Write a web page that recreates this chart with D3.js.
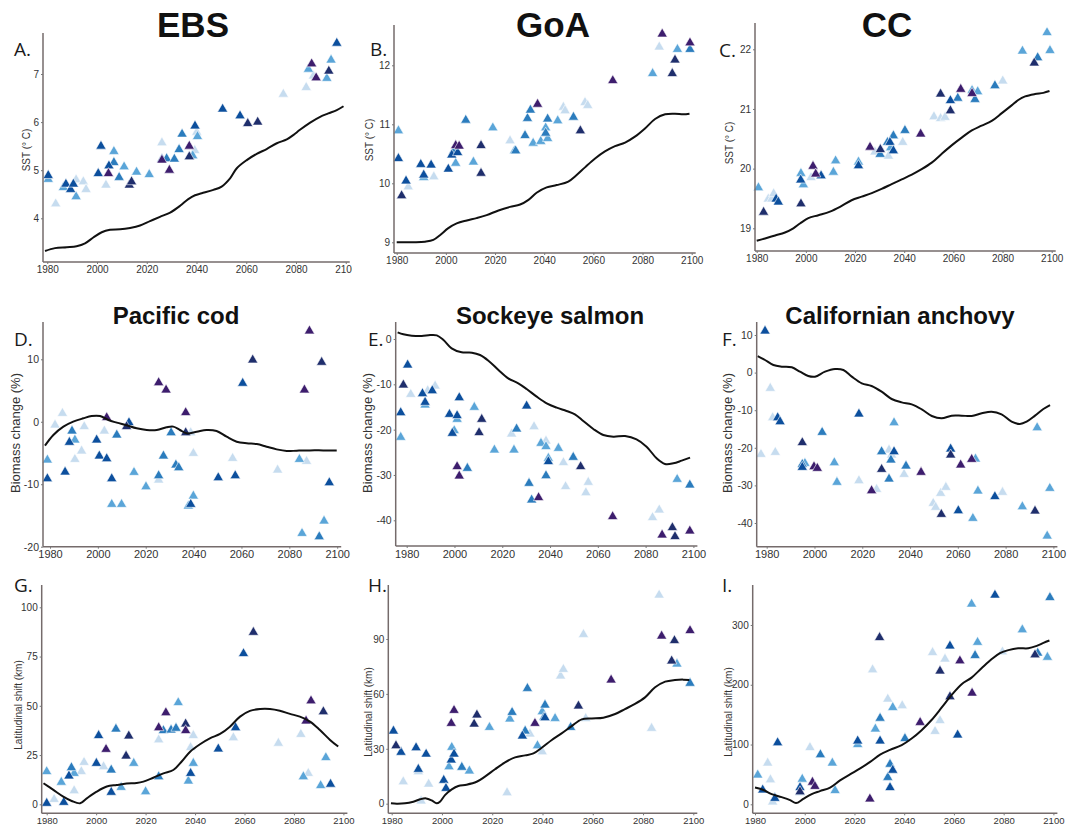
<!DOCTYPE html>
<html>
<head>
<meta charset="utf-8">
<script src="https://cdn.jsdelivr.net/npm/d3@7"></script>
<style>
  body { margin: 0; background: #fff; }
  svg { display: block; }
  text { font-family: "Liberation Sans", Arial, sans-serif; fill: #2a2a2a; }
</style>
</head>
<body>
<svg id="fig" width="1077" height="826"></svg>
<script>
// shade index -> colour (pale ... purple)
const shades = ['#c6dcef', '#5aa5d8', '#2b7cbd', '#0c4f9d', '#1f2e6c', '#3d1d6d']

const years = [1980, 2000, 2020, 2040, 2060, 2080, 2100]

// points are [year, value, shade]
const ebsPts = [[1980.4,4.89,3],[1980.4,4.81,1],[1983.4,4.30,0],[1986.5,4.64,1],[1987.5,4.71,3],[1989.4,4.60,3],[1990.5,4.71,3],[1991.6,4.45,1],[1991.6,4.80,0],[1994.5,4.76,0],[1995.6,4.60,0],[2000.5,4.93,3],[2001.6,5.50,3],[2003.6,4.69,0],[2004.6,4.93,5],[2004.8,5.09,3],[2006.8,5.16,2],[2006.8,5.39,1],[2008.9,4.85,2],[2010.9,5.07,1],[2013.0,4.69,4],[2013.9,4.76,4],[2015.9,4.96,1],[2021.0,4.91,1],[2026.1,5.57,0],[2026.1,5.23,2],[2026.1,5.21,5],[2028.0,5.24,2],[2029.1,5.00,5],[2031.1,5.23,2],[2033.0,5.43,2],[2034.2,5.75,2],[2037.1,5.50,5],[2037.1,5.28,4],[2038.5,5.30,1],[2039.3,5.41,0],[2039.4,5.92,3],[2040.4,5.70,1],[2040.1,5.79,0],[2050.5,6.27,3],[2057.5,6.13,3],[2060.6,5.97,4],[2064.6,6.00,4],[2074.9,6.58,0],[2084.1,6.72,0],[2085.0,7.10,1],[2086.3,7.21,5],[2087.0,6.96,0],[2088.1,6.92,5],[2092.4,6.91,1],[2093.2,7.06,4],[2094.1,7.29,1],[2096.4,7.64,3]]
const ebsLine = [[1979.1,3.32],[1983.1,3.38],[1987.8,3.40],[1991.8,3.42],[1995.2,3.48],[1998.5,3.60],[2001.9,3.71],[2005.2,3.76],[2009.3,3.77],[2013.3,3.80],[2017.3,3.85],[2021.3,3.94],[2025.3,4.03],[2029.4,4.12],[2033.4,4.26],[2036.7,4.40],[2039.4,4.48],[2042.1,4.52],[2046.8,4.59],[2050.1,4.66],[2053.5,4.83],[2056.2,5.04],[2060.2,5.21],[2064.2,5.34],[2068.2,5.44],[2072.3,5.56],[2076.3,5.64],[2078.9,5.73],[2081.6,5.84],[2085.7,5.99],[2089.7,6.11],[2093.0,6.18],[2096.4,6.25],[2099.1,6.33]]

const goaPts = [[1980.7,10.89,1],[1980.7,10.42,3],[1982.0,9.79,4],[1983.8,10.04,3],[1984.7,9.94,0],[1989.8,10.32,3],[1991.0,10.10,1],[1991.0,10.14,3],[1994.0,10.31,3],[1995.1,10.11,0],[2001.0,10.24,3],[2002.4,10.48,3],[2003.2,10.55,2],[2004.0,10.34,1],[2004.0,10.64,5],[2004.8,10.52,3],[2005.4,10.63,5],[2008.1,11.07,2],[2011.2,10.36,1],[2014.3,10.64,4],[2014.3,10.17,4],[2019.1,10.94,1],[2026.1,10.72,0],[2027.9,10.55,1],[2028.4,10.55,2],[2032.2,10.81,2],[2033.2,11.10,2],[2034.4,11.24,2],[2035.5,10.68,1],[2037.3,11.34,5],[2038.6,10.71,1],[2040.6,10.94,1],[2040.6,10.85,2],[2041.4,10.76,1],[2041.4,11.09,2],[2045.5,11.06,1],[2047.8,11.29,0],[2048.5,11.23,0],[2051.9,11.12,2],[2054.7,10.89,4],[2056.6,11.37,0],[2057.7,11.32,0],[2067.9,11.74,5],[2084.1,11.86,1],[2086.8,12.31,0],[2088.0,12.53,5],[2092.1,11.86,4],[2093.2,12.09,4],[2094.2,12.27,1],[2099.3,12.27,2],[2099.3,12.38,5]]
const goaLine = [[1980,9.00],[1983.4,9.00],[1987.5,9.00],[1991.5,9.01],[1994.9,9.04],[1997.6,9.12],[2001.0,9.24],[2004.4,9.32],[2008.5,9.37],[2012.5,9.41],[2016.6,9.46],[2021.4,9.54],[2026.1,9.60],[2030.2,9.64],[2033.6,9.72],[2036.9,9.84],[2041.0,9.93],[2045.1,9.97],[2049.8,10.03],[2053.2,10.14],[2056.6,10.27],[2060.7,10.42],[2064.7,10.54],[2068.8,10.63],[2072.9,10.69],[2076.9,10.79],[2081.0,10.93],[2085.1,11.09],[2089.2,11.17],[2093.2,11.18],[2096.6,11.17],[2099.1,11.18]]

const ccPts = [[1980.7,19.68,1],[1982.8,19.27,4],[1984.7,19.49,0],[1986.1,19.49,0],[1986.9,19.58,0],[1987.9,19.49,3],[1988.8,19.44,3],[1998.0,19.92,1],[1997.9,19.81,3],[1998.0,19.41,4],[1999.0,19.73,1],[2002.1,19.85,0],[2002.9,20.04,5],[2004.0,19.91,5],[2006.2,19.88,3],[2011.2,19.94,1],[2012.1,20.13,1],[2021.4,20.11,1],[2021.4,20.05,3],[2026.1,20.36,5],[2028.1,20.28,0],[2030.2,20.24,2],[2030.3,20.32,4],[2033.2,20.44,2],[2033.6,20.21,0],[2034.2,20.44,3],[2034.5,20.35,1],[2035.6,20.30,3],[2035.6,20.55,2],[2039.4,20.44,0],[2040.3,20.64,2],[2046.7,20.58,5],[2052.1,20.87,0],[2054.8,20.84,0],[2056.6,20.86,0],[2054.8,21.25,4],[2058.8,21.14,3],[2058.8,20.97,4],[2061.8,21.18,2],[2063.0,21.33,5],[2067.6,21.31,1],[2067.6,21.26,5],[2068.8,21.16,2],[2069.9,21.29,1],[2076.9,21.39,2],[2080.1,21.47,0],[2088.1,21.97,1],[2092.9,21.77,4],[2094.3,21.86,2],[2098.1,22.28,1],[2099.3,21.98,1]]
const ccLine = [[1980,18.79],[1983.4,18.83],[1987.5,18.88],[1991.5,18.93],[1994.9,19.00],[1997.6,19.08],[2001.0,19.17],[2005.1,19.22],[2009.8,19.28],[2013.9,19.36],[2018.6,19.47],[2022.7,19.53],[2026.8,19.59],[2030.8,19.66],[2034.9,19.74],[2039.0,19.82],[2043.1,19.90],[2047.1,19.99],[2051.2,20.10],[2055.3,20.25],[2059.3,20.39],[2063.4,20.52],[2067.5,20.64],[2071.5,20.72],[2075.6,20.80],[2079.7,20.93],[2083.7,21.06],[2086.4,21.15],[2089.2,21.21],[2093.2,21.25],[2096.6,21.27],[2099.1,21.30]]

const codPts = [[1978.9,-9.11,3],[1978.9,-6.12,1],[1982.1,-0.52,0],[1985.2,1.35,0],[1986.3,-8.05,3],[1988.1,-3.29,3],[1989.2,-1.48,2],[1990.4,-2.92,1],[1990.4,-6.02,0],[1993.2,-4.68,0],[1994.3,-0.78,0],[1999.5,-2.92,3],[2000.6,-5.48,3],[2002.7,-1.48,0],[2003.7,0.66,5],[2003.7,-5.91,3],[2005.8,-9.11,3],[2005.8,-13.22,1],[2007.9,-2.12,2],[2009.9,-13.22,1],[2012.0,-0.78,4],[2013.0,-0.14,3],[2015.1,-8.10,1],[2020.1,-10.40,1],[2025.4,6.26,5],[2025.4,-9.33,0],[2025.4,-8.63,2],[2027.4,-5.48,2],[2028.5,5.09,5],[2030.6,-1.75,2],[2032.6,-6.92,2],[2033.8,-7.35,2],[2036.7,1.46,5],[2036.7,-1.75,4],[2037.8,-13.49,1],[2038.8,-13.22,3],[2038.8,-1.75,0],[2039.9,-11.89,1],[2039.9,-5.06,0],[2050.3,-8.95,3],[2056.3,-5.86,0],[2057.4,-8.63,3],[2060.5,6.16,3],[2064.7,9.89,4],[2075.1,-7.73,0],[2084.2,-6.02,1],[2085.3,-17.87,1],[2086.3,5.09,5],[2087.2,-6.34,0],[2088.4,14.54,5],[2092.5,-18.40,2],[2093.5,9.52,4],[2094.5,-15.89,1],[2096.7,-9.75,3]]
const codLine = [[1977.9,-3.83],[1981.4,-2.12],[1985.6,-0.78],[1989.7,0.02],[1993.9,0.55],[1997.4,0.92],[2000.9,0.92],[2004.4,0.28],[2007.9,-0.14],[2012.0,-0.57],[2016.2,-1.05],[2020.4,-1.32],[2024.6,-1.32],[2028.7,-0.89],[2031.5,-0.78],[2034.3,-1.32],[2037.1,-1.85],[2041.3,-1.59],[2045.4,-1.32],[2049.6,-1.48],[2053.8,-2.39],[2058.0,-3.19],[2062.2,-3.45],[2066.4,-3.56],[2070.5,-3.99],[2074.7,-4.42],[2078.9,-4.68],[2083.1,-4.63],[2088.6,-4.58],[2094.2,-4.58],[2099.8,-4.58]]

const salmonPts = [[1977.5,-16.25,3],[1977.5,-21.69,1],[1978.6,-10.15,4],[1980.4,-5.74,3],[1981.7,-12.21,0],[1986.6,-12.06,3],[1987.7,-14.56,1],[1987.7,-13.97,3],[1988.8,-11.40,0],[1990.7,-11.40,3],[1991.9,-10.37,0],[1997.9,-16.62,3],[1999.1,-20.81,3],[1999.9,-20.22,1],[2001.1,-16.91,3],[2001.1,-17.72,1],[2001.1,-28.16,5],[2002.0,-12.94,3],[2002.0,-30.22,5],[2005.4,-28.53,2],[2008.3,-15.07,1],[2010.3,-20.66,4],[2011.4,-17.72,4],[2016.7,-24.49,1],[2023.9,-20.96,0],[2024.9,-24.49,1],[2026.0,-19.85,2],[2030.2,-14.78,3],[2031.2,-31.84,2],[2032.3,-35.51,2],[2033.3,-19.34,0],[2035.2,-35.00,5],[2036.2,-23.01,1],[2038.3,-22.50,0],[2038.3,-23.75,1],[2038.3,-30.15,2],[2039.3,-26.32,1],[2039.3,-27.06,3],[2043.5,-24.12,1],[2045.6,-27.28,0],[2046.5,-32.57,0],[2049.7,-26.10,2],[2052.8,-28.16,4],[2055.0,-33.90,0],[2056.0,-31.62,0],[2066.2,-39.19,5],[2082.9,-39.41,0],[2085.7,-37.72,0],[2086.9,-43.24,5],[2091.2,-41.62,4],[2092.3,-43.60,4],[2093.2,-30.96,1],[2098.5,-32.21,2],[2098.5,-42.35,5]]
const salmonLine = [[1976.2,1.47],[1978.6,1.03],[1982.1,0.74],[1986.3,0.66],[1989.8,0.88],[1992.6,0.81],[1995.4,-0.22],[1998.8,-2.06],[2003.0,-2.94],[2007.3,-3.01],[2010.7,-3.53],[2014.2,-4.78],[2018.4,-6.84],[2022.5,-8.68],[2026.7,-9.78],[2030.2,-11.03],[2034.4,-12.72],[2038.6,-14.19],[2042.8,-15.15],[2046.9,-15.88],[2050.4,-16.62],[2053.9,-18.09],[2058.1,-19.85],[2062.3,-21.18],[2066.5,-21.54],[2071.4,-21.40],[2076.2,-22.13],[2080.4,-23.75],[2084.6,-26.32],[2088.1,-27.57],[2091.6,-27.43],[2095.1,-26.84],[2098.6,-26.18]]

const anchovyPts = [[1979.3,11.06,3],[1977.6,-21.74,0],[1981.5,-4.18,0],[1982.5,-11.99,0],[1983.6,-21.21,0],[1984.6,-11.99,3],[1985.6,-13.05,3],[1994.9,-18.63,4],[1994.9,-25.20,3],[1994.9,-24.40,2],[1996.0,-24.13,1],[1999.8,-25.02,5],[2001.2,-25.46,5],[2003.2,-15.89,2],[2008.3,-23.95,1],[2009.4,-29.18,1],[2018.6,-11.01,3],[2018.6,-28.74,0],[2023.9,-31.40,5],[2026.0,-31.05,0],[2028.1,-21.03,2],[2028.1,-25.73,4],[2031.2,-20.59,0],[2031.2,-28.30,2],[2032.0,-23.24,2],[2032.3,-21.91,0],[2033.3,-21.03,3],[2033.3,-13.32,1],[2037.5,-27.06,0],[2038.3,-24.84,2],[2044.6,-26.52,5],[2049.7,-34.77,0],[2050.7,-35.83,0],[2052.8,-32.11,0],[2053.1,-37.70,4],[2055.0,-30.51,0],[2057.0,-20.32,3],[2057.0,-21.91,4],[2060.2,-36.72,3],[2061.2,-24.57,5],[2065.8,-23.07,5],[2067.4,-22.98,1],[2066.3,-38.76,1],[2068.4,-31.49,1],[2075.5,-32.99,3],[2078.7,-31.84,0],[2087.0,-35.66,1],[2092.3,-36.81,4],[2093.2,-14.65,1],[2097.4,-43.46,1],[2098.5,-30.78,1]]
const anchovyLine = [[1976.2,4.41],[1979.3,3.35],[1982.8,2.02],[1986.3,1.58],[1990.5,1.40],[1993.9,0.25],[1997.4,-0.90],[2000.2,-1.08],[2004.4,0.25],[2008.6,0.96],[2012.1,0.69],[2015.6,-1.08],[2019.8,-2.85],[2023.9,-3.56],[2028.1,-5.07],[2032.3,-7.02],[2036.5,-7.91],[2040.7,-8.44],[2044.9,-9.77],[2049.1,-11.54],[2053.2,-12.16],[2057.4,-11.45],[2061.6,-11.45],[2065.8,-11.54],[2070.0,-10.83],[2074.1,-10.39],[2078.3,-11.10],[2082.5,-13.05],[2086.0,-13.67],[2088.8,-13.05],[2092.3,-11.45],[2095.8,-9.68],[2098.6,-8.62]]

const codShiftPts = [[1980.0,0.5,3],[1980.0,16.6,1],[1983.0,2.5,0],[1985.9,11.2,1],[1986.9,1.0,3],[1989.0,14.4,3],[1990.0,18.6,2],[1991.1,15.7,1],[1991.1,6.9,0],[1994.0,16.6,0],[1995.1,21.3,0],[2000.1,20.8,3],[2001.0,34.9,3],[2003.0,19.1,0],[2004.0,27.9,5],[2006.1,6.1,3],[2006.1,17.4,2],[2008.0,38.2,2],[2010.1,8.6,1],[2012.1,24.5,4],[2013.2,34.7,4],[2015.2,20.8,1],[2020.0,6.4,1],[2025.3,32.7,0],[2025.3,14.0,2],[2025.3,38.9,5],[2027.2,37.4,2],[2028.2,46.5,5],[2030.3,37.7,2],[2032.3,38.6,2],[2033.2,51.6,1],[2036.2,40.8,4],[2036.2,37.4,5],[2037.3,11.8,1],[2038.2,15.7,3],[2038.2,28.8,0],[2039.3,34.9,0],[2039.3,20.8,1],[2049.4,28.1,3],[2055.5,33.8,0],[2056.4,38.9,3],[2059.6,76.5,3],[2063.6,87.3,4],[2073.7,31.0,0],[2082.8,35.5,0],[2083.8,14.0,1],[2084.9,42.3,5],[2085.8,15.7,0],[2086.9,52.5,5],[2090.8,9.5,1],[2091.9,47.0,4],[2092.9,23.7,1],[2094.8,10.2,3]]
const codShiftLine = [[1978.7,10.7],[1982.7,7.3],[1986.7,3.9],[1990.1,1.7],[1993.5,0.5],[1996.2,3.0],[2000.2,6.4],[2004.3,9.0],[2008.3,9.8],[2012.3,10.5],[2016.4,10.8],[2019.1,11.5],[2023.1,13.5],[2027.2,15.7],[2031.2,17.4],[2034.6,21.7],[2038.0,26.7],[2042.0,30.5],[2046.0,33.5],[2050.1,35.7],[2054.1,39.4],[2058.2,44.5],[2062.2,47.4],[2066.3,48.4],[2070.3,48.4],[2074.3,47.5],[2078.4,45.9],[2082.4,44.5],[2086.5,42.0],[2090.5,37.7],[2094.6,32.7],[2097.9,29.3]]

const salmonShiftPts = [[1980.7,39.7,3],[1981.7,31.7,4],[1983.7,28.1,3],[1984.6,12.0,0],[1989.7,30.6,3],[1990.6,17.5,0],[1990.6,18.8,3],[1991.7,1.5,0],[1993.7,27.1,3],[1994.7,10.7,0],[2000.7,12.8,3],[2001.6,8.4,3],[2002.8,20.2,1],[2003.7,43.9,5],[2003.7,23.9,3],[2003.9,30.8,1],[2004.8,51.0,5],[2004.8,27.1,3],[2007.9,19.9,2],[2010.9,17.9,1],[2012.8,43.5,4],[2013.9,48.5,4],[2018.9,41.7,1],[2025.9,6.0,0],[2027.0,46.3,1],[2027.9,49.9,2],[2032.0,37.0,3],[2033.1,39.7,2],[2034.0,63.0,2],[2035.0,38.1,0],[2037.0,43.9,5],[2038.0,31.7,1],[2039.9,28.4,0],[2039.9,50.3,1],[2040.6,47.2,2],[2041.0,53.9,2],[2041.0,47.0,3],[2045.0,46.6,1],[2047.2,69.8,0],[2048.3,73.4,0],[2051.2,41.7,2],[2054.3,53.4,4],[2056.3,92.5,0],[2057.2,46.6,0],[2067.3,67.6,5],[2083.4,41.2,0],[2086.4,114.0,0],[2087.4,91.6,5],[2091.4,78.0,4],[2092.5,89.1,4],[2093.5,76.3,1],[2098.7,65.8,2],[2098.7,94.6,5]]
const salmonShiftLine = [[1979.7,0.2],[1982.0,0],[1985.3,0.2],[1988.6,1.1],[1991.3,2.4],[1993.7,2.9],[1995.9,1.8],[1997.9,0.2],[1999.2,1.1],[2001.2,4.7],[2003.9,7.8],[2006.5,9.7],[2009.8,10.4],[2013.8,12.0],[2017.1,14.8],[2021.1,18.8],[2025.1,22.6],[2029.1,25.3],[2033.1,26.4],[2036.4,27.5],[2039.7,30.6],[2043.7,34.8],[2047.6,38.4],[2051.6,42.4],[2055.6,46.1],[2059.6,46.6],[2064.2,47.0],[2068.9,49.0],[2072.8,51.7],[2076.8,54.5],[2080.8,58.1],[2084.8,63.6],[2088.8,66.7],[2092.7,67.6],[2096.0,67.8],[2098.4,67.6]]

const anchovyShiftPts = [[1981.1,49,1],[1983.1,24,3],[1985.1,69,0],[1986.2,41,0],[1987.1,4,0],[1988.0,10,3],[1989.1,103,3],[1998.1,21,4],[1998.1,28,3],[1998.1,20,1],[1999.0,42,1],[2002.1,95,0],[2003.1,37,5],[2004.1,30,5],[2006.3,83,2],[2011.1,69,1],[2012.2,23,1],[2021.3,100,1],[2021.3,106,3],[2026.2,9,5],[2027.3,225,0],[2028.4,126,1],[2030.1,279,4],[2030.3,144,2],[2030.3,106,3],[2033.4,176,0],[2033.4,45,2],[2034.3,67,2],[2034.3,28,3],[2035.4,57,3],[2035.4,162,1],[2039.2,165,0],[2040.3,110,2],[2046.4,137,5],[2051.4,254,0],[2052.4,122,0],[2054.4,140,0],[2054.4,223,4],[2056.4,243,0],[2058.4,265,3],[2058.4,180,4],[2061.5,116,3],[2062.4,240,5],[2067.1,335,1],[2067.3,186,5],[2068.5,249,2],[2069.5,271,1],[2076.5,350,3],[2079.5,255,0],[2087.5,292,1],[2092.6,250,4],[2093.7,253,2],[2097.6,246,1],[2098.6,346,2]]
const anchovyShiftLine = [[1980,28],[1983.4,24],[1986.7,17],[1990.7,12],[1994.1,7],[1996.5,2],[1999.4,9],[2002.8,17],[2006.1,22],[2010.2,28],[2014.2,40],[2018.2,50],[2022.3,60],[2026.3,71],[2030.3,83],[2034.3,91],[2039.0,99],[2043.0,110],[2047.0,124],[2051.0,141],[2055.1,162],[2059.1,183],[2063.1,201],[2067.1,212],[2071.2,228],[2075.2,243],[2078.5,253],[2081.9,258],[2085.9,261],[2089.9,261],[2093.3,265],[2096.0,270],[2098.4,274]]

const sstTicks = { ebs: [4, 5, 6, 7], goa: [9, 10, 11, 12], cc: [19, 20, 21, 22] }
const biomassTicks = { cod: [-20, -10, 0, 10], salmon: [-40, -30, -20, -10, 0], anchovy: [-40, -30, -20, -10, 0, 10] }
const shiftTicks = { cod: [0, 25, 50, 75, 100], salmon: [0, 30, 60, 90], anchovy: [0, 100, 200, 300] }

const colTitles = ['EBS', 'GoA', 'CC']
const rowTitles = ['Pacific cod', 'Sockeye salmon', 'Californian anchovy']
const letters = ['A.', 'B.', 'C.', 'D.', 'E.', 'F.', 'G.', 'H.', 'I.']

const svg = d3.select('#fig')

// layout of each panel (pixels), data comes from the arrays above
const panels = [
  { pts: ebsPts, line: ebsLine, ticks: sstTicks.ebs, yd: [4, 7], yr: [218.3, 74], xr: [47.25, 345.75], ax: 43, top: 33, bot: 262, ylab: 'SST (° C)', labX: 30, labY: 150, clipX: 352, tick: 10 },
  { pts: goaPts, line: goaLine, ticks: sstTicks.goa, yd: [9, 12], yr: [242.3, 65.3], xr: [396.7, 691.7], ax: 394, top: 25, bot: 253, ylab: 'SST (° C)', labX: 373, labY: 140, tick: 10 },
  { pts: ccPts, line: ccLine, ticks: sstTicks.cc, yd: [19, 22], yr: [228.3, 49.3], xr: [756.7, 1051.7], ax: 755, top: 23, bot: 251, ylab: 'SST (° C)', labX: 733, labY: 143, tick: 10 },
  { pts: codPts, line: codLine, ticks: biomassTicks.cod, yd: [-20, 10], yr: [546.7, 359.3], xr: [50, 337.2], ax: 43, top: 322, bot: 546.7, ylab: 'Biomass change (%)', labX: 20, labY: 433, tick: 11, big: true },
  { pts: salmonPts, line: salmonLine, ticks: biomassTicks.salmon, yd: [-40, 0], yr: [520.3, 339], xr: [406.7, 693.4], ax: 395.7, top: 322, bot: 546, ylab: 'Biomass change (%)', labX: 372, labY: 433, tick: 11, big: true },
  { pts: anchovyPts, line: anchovyLine, ticks: biomassTicks.anchovy, yd: [-40, 10], yr: [523, 335], xr: [766.7, 1053.4], ax: 756.7, top: 322, bot: 546.7, ylab: 'Biomass change (%)', labX: 732, labY: 433, tick: 11, big: true },
  { pts: codShiftPts, line: codShiftLine, ticks: shiftTicks.cod, yd: [0, 100], yr: [804.3, 607.3], xr: [46.7, 343.4], ax: 41.7, top: 585, bot: 813.3, ylab: 'Latitudinal shift (km)', labX: 22, labY: 705, tick: 9.5 },
  { pts: salmonShiftPts, line: salmonShiftLine, ticks: shiftTicks.salmon, yd: [0, 90], yr: [803.7, 639], xr: [391.7, 693.3], ax: 388.3, top: 585, bot: 813.3, ylab: 'Latitudinal shift (km)', labX: 372, labY: 712, tick: 9.5 },
  { pts: anchovyShiftPts, line: anchovyShiftLine, ticks: shiftTicks.anchovy, yd: [0, 300], yr: [804.3, 625], xr: [755, 1053.4], ax: 752.7, top: 585, bot: 813.3, ylab: 'Latitudinal shift (km)', labX: 732, labY: 712, tick: 9.5 }
]

const tri = d3.symbol().type(d3.symbolTriangle).size(46)
const fmt = d => String(d)

panels.forEach((p, i) => {
  const x = d3.scaleLinear().domain([1980, 2100]).range(p.xr)
  const y = d3.scaleLinear().domain(p.yd).range(p.yr)
  const g = svg.append('g')

  // points, lighter shades first
  const pts = p.pts.slice().sort((a, b) => a[2] - b[2])
  g.selectAll('path.pt')
    .data(pts)
    .join('path')
    .attr('class', 'pt')
    .attr('d', tri)
    .attr('transform', d => 'translate(' + x(d[0]) + ',' + y(d[1]) + ')')
    .style('fill', d => shades[d[2]])
    .style('stroke', '#fff')
    .style('stroke-width', 0.6)

  // smoothed line
  g.append('path')
    .datum(p.line)
    .attr('d', d3.line().x(d => x(d[0])).y(d => y(d[1])).curve(d3.curveCatmullRom.alpha(0.5)))
    .style('fill', 'none')
    .style('stroke', '#111')
    .style('stroke-width', 2)

  // axis lines
  g.append('line').attr('x1', p.ax).attr('x2', p.ax).attr('y1', p.top).attr('y2', p.bot)
    .style('stroke', '#756b6b').style('stroke-width', 1.5)
  g.append('line').attr('x1', p.ax).attr('x2', p.xr[1] + 4).attr('y1', p.bot).attr('y2', p.bot)
    .style('stroke', '#756b6b').style('stroke-width', 1.5)

  // y ticks
  const yAx = g.append('g')
    .attr('transform', 'translate(' + p.ax + ',0)')
    .call(d3.axisLeft(y).tickValues(p.ticks).tickFormat(fmt).tickSize(2).tickPadding(2))
  yAx.select('.domain').remove()
  yAx.selectAll('line').style('stroke', '#777')
  yAx.selectAll('text').style('font-size', (p.big ? 10.5 : 10) + 'px').style('fill', '#333')

  // x ticks
  const xAx = g.append('g')
    .attr('transform', 'translate(0,' + p.bot + ')')
    .call(d3.axisBottom(x).tickValues(years).tickFormat(fmt).tickSize(2).tickPadding(2))
  xAx.select('.domain').remove()
  xAx.selectAll('line').style('stroke', '#777')
  xAx.selectAll('text').style('font-size', (p.big ? 11 : p.tick) + 'px').style('fill', '#333')
  if (p.clipX) {
    svg.append('clipPath').attr('id', 'clipA').append('rect')
      .attr('x', 0).attr('y', 0).attr('width', p.clipX).attr('height', 826)
    xAx.attr('clip-path', 'url(#clipA)')
  }

  // y label
  g.append('text')
    .attr('transform', 'translate(' + p.labX + ',' + p.labY + ') rotate(-90)')
    .attr('text-anchor', 'middle')
    .style('font-size', p.big ? '13px' : '10px')
    .style('fill', '#333')
    .text(p.ylab)
})

// panel letters
const letterPos = [[14, 56], [370, 56], [719, 57], [14, 346], [368, 346], [722, 346], [14, 592], [368, 592], [722, 592]]
svg.selectAll('text.letter')
  .data(letters)
  .join('text')
  .attr('class', 'letter')
  .attr('x', (d, i) => letterPos[i][0])
  .attr('y', (d, i) => letterPos[i][1])
  .style('font-family', '"Open Sans", "DejaVu Sans", sans-serif')
  .style('font-size', '19px')
  .style('fill', '#1a1a1a')
  .text(d => d)

// column and row titles
const colX = [193, 553, 887]
svg.selectAll('text.col')
  .data(colTitles)
  .join('text')
  .attr('class', 'col')
  .attr('x', (d, i) => colX[i])
  .attr('y', 37)
  .attr('text-anchor', 'middle')
  .style('font-size', '35px')
  .style('font-weight', 'bold')
  .style('fill', '#111')
  .text(d => d)

const rowX = [176, 550, 900]
svg.selectAll('text.row')
  .data(rowTitles)
  .join('text')
  .attr('class', 'row')
  .attr('x', (d, i) => rowX[i])
  .attr('y', 324)
  .attr('text-anchor', 'middle')
  .style('font-size', '24px')
  .style('font-weight', 'bold')
  .style('fill', '#111')
  .text(d => d)
</script>
</body>
</html>
